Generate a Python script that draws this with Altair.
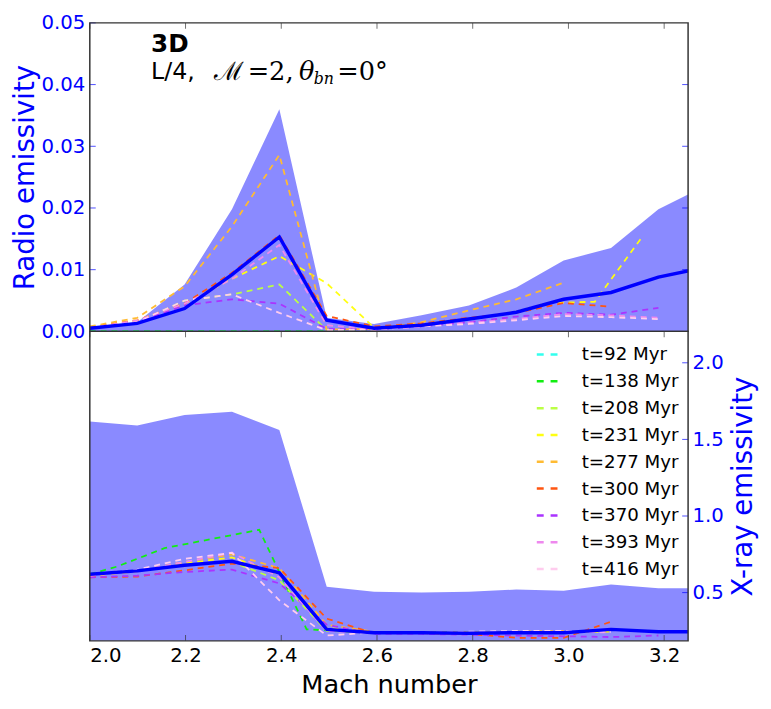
import altair as alt
import pandas as pd

# ---------------- data ----------------
MACH = [2.000, 2.099, 2.198, 2.297, 2.396, 2.495, 2.594, 2.693, 2.792, 2.891, 2.990, 3.089, 3.188, 3.287]
MACH_B = [2.000, 2.057, 2.156, 2.255, 2.354, 2.453, 2.552, 2.651, 2.750]

RADIO_MAX = [0.0005, 0.0015, 0.0076, 0.0198, 0.0360, 0.0022, 0.0012, 0.0026, 0.0042, 0.0071, 0.0115, 0.0135, 0.0198, 0.0236]
RADIO_MIN = [0.0, 0.0, 0.0, 0.0, 0.0, 0.0, 0.0, 0.0, 0.0, 0.0, 0.0, 0.0, 0.0, 0.0]
RADIO_MEAN = [0.0005, 0.0013, 0.0037, 0.0092, 0.0153, 0.0018, 0.0005, 0.0010, 0.0020, 0.0031, 0.0052, 0.0063, 0.0088, 0.0104]

XRAY_MAX = [1.616, 1.590, 1.659, 1.680, 1.562, 0.539, 0.506, 0.500, 0.505, 0.520, 0.512, 0.553, 0.528, 0.528]
XRAY_MIN = [0.10, 0.10, 0.10, 0.10, 0.10, 0.10, 0.10, 0.10, 0.10, 0.10, 0.10, 0.10, 0.10, 0.10]
XRAY_MEAN = [0.620, 0.642, 0.678, 0.704, 0.629, 0.260, 0.238, 0.238, 0.235, 0.238, 0.238, 0.260, 0.245, 0.245]

TIMES = ["t=92 Myr", "t=138 Myr", "t=208 Myr", "t=231 Myr", "t=277 Myr",
         "t=300 Myr", "t=370 Myr", "t=393 Myr", "t=416 Myr"]
COLORS = ["#33ffee", "#11ee11", "#bbff44", "#ffff11", "#ffbb33",
          "#ff5511", "#aa33ff", "#ee88ee", "#ffccee"]

YELLOW_X = [2.000, 2.099, 2.198, 2.297, 2.396, 2.495, 2.594, 2.693, 2.792, 2.891, 2.956, 3.055, 3.154]

RADIO_T92 = [0.0, 0.0, 0.0, 0.0, 0.0, 0.0]
RADIO_T138 = [0.0, 0.0, 0.0, 0.0, 0.0, 0.0, 0.0]
RADIO_T208 = [0.0005, 0.0015, 0.0050, 0.0060, 0.0076, 0.0002]
RADIO_T231 = [0.0007, 0.0018, 0.0045, 0.0085, 0.0122, 0.0078, 0.0006, 0.0012, 0.0020, 0.0032, 0.0046, 0.0048, 0.0153]
RADIO_T277 = [0.0008, 0.0022, 0.0073, 0.0170, 0.0286, 0.0003, 0.0004, 0.0015, 0.0034, 0.0052, 0.0079]
RADIO_T300 = [0.0006, 0.0018, 0.0045, 0.0095, 0.0156, 0.0025, 0.0008, 0.0013, 0.0022, 0.0030, 0.0046, 0.0040]
RADIO_T370 = [0.0005, 0.0015, 0.0042, 0.0052, 0.0045, 0.0004, 0.0003, 0.0008, 0.0015, 0.0024, 0.0030, 0.0027, 0.0038]
RADIO_T393 = [0.0005, 0.0018, 0.0045, 0.0085, 0.0140, 0.0010, 0.0003, 0.0008, 0.0014, 0.0020, 0.0028, 0.0026, 0.0022]
RADIO_T416 = [0.0005, 0.0015, 0.0050, 0.0060, 0.0030, 0.0002, 0.0003, 0.0008, 0.0012, 0.0018, 0.0025, 0.0023, 0.0020]

XRAY_T92 = [0.620, 0.642, 0.678, 0.704, 0.629, 0.260]
XRAY_T138 = [0.62, 0.67, 0.79, 0.85, 0.91, 0.26, 0.245, 0.24, 0.24]
XRAY_T208 = [0.61, 0.64, 0.68, 0.70, 0.58, 0.25, 0.24]
XRAY_T231 = [0.61, 0.64, 0.69, 0.73, 0.62, 0.27, 0.24, 0.24, 0.24, 0.24, 0.24, 0.245]
XRAY_T277 = [0.61, 0.64, 0.70, 0.75, 0.66, 0.29, 0.245, 0.24, 0.24, 0.245, 0.25]
XRAY_T300 = [0.60, 0.605, 0.645, 0.69, 0.66, 0.33, 0.235, 0.235, 0.23, 0.205, 0.205, 0.31]
XRAY_T370 = [0.60, 0.61, 0.635, 0.65, 0.56, 0.29, 0.23, 0.23, 0.225, 0.22, 0.215, 0.21, 0.22]
XRAY_T393 = [0.61, 0.64, 0.70, 0.76, 0.60, 0.25, 0.235, 0.235, 0.24, 0.24, 0.245, 0.24]
XRAY_T416 = [0.62, 0.65, 0.72, 0.76, 0.45, 0.22, 0.24, 0.24, 0.245, 0.25, 0.25, 0.245]

X_TICKS = [2.0, 2.2, 2.4, 2.6, 2.8, 3.0, 3.2]
RADIO_TICKS = [0.0, 0.01, 0.02, 0.03, 0.04, 0.05]
RADIO_RIGHT_TICKS = [0.01, 0.02, 0.03, 0.04]
XRAY_TICKS = [0.5, 1.0, 1.5, 2.0]

radio_series = [
    (TIMES[0], MACH, RADIO_T92), (TIMES[1], MACH, RADIO_T138), (TIMES[2], MACH, RADIO_T208),
    (TIMES[3], YELLOW_X, RADIO_T231), (TIMES[4], MACH, RADIO_T277), (TIMES[5], MACH, RADIO_T300),
    (TIMES[6], MACH, RADIO_T370), (TIMES[7], MACH, RADIO_T393), (TIMES[8], MACH, RADIO_T416),
]
xray_series = [
    (TIMES[0], MACH, XRAY_T92), (TIMES[1], MACH_B, XRAY_T138), (TIMES[2], MACH, XRAY_T208),
    (TIMES[3], MACH, XRAY_T231), (TIMES[4], MACH, XRAY_T277), (TIMES[5], MACH, XRAY_T300),
    (TIMES[6], MACH, XRAY_T370), (TIMES[7], MACH, XRAY_T393), (TIMES[8], MACH, XRAY_T416),
]


def long_df(series):
    rows = []
    for name, xs, ys in series:
        for x, y in zip(xs, ys):
            rows.append({"time": name, "mach": x, "val": y})
    return pd.DataFrame(rows)


radio_df = long_df(radio_series)
xray_df = long_df(xray_series)
band_radio = pd.DataFrame({"mach": MACH, "lo": RADIO_MIN, "hi": RADIO_MAX, "mean": RADIO_MEAN})
band_xray = pd.DataFrame({"mach": MACH, "lo": XRAY_MIN, "hi": XRAY_MAX, "mean": XRAY_MEAN})

# ---------------- styling ----------------
BLUE = "#0000ff"
FRAME = "#333333"
FONT = "DejaVu Sans"
W = 607
H_TOP = 313
H_BOT = 314
xscale = alt.Scale(domain=[2.0, 3.25], nice=False, zero=False)
color_scale = alt.Scale(domain=TIMES, range=COLORS)
ysc_top = alt.Scale(domain=[0, 0.05], nice=False, zero=False)
ysc_bot = alt.Scale(domain=[0.185, 2.205], nice=False, zero=False)

LEGEND = alt.Legend(orient="none", legendX=452, legendY=324, title=None,
                    symbolType="stroke", symbolDash=[7, 7], symbolStrokeWidth=2.5,
                    symbolSize=484, labelFontSize=18.5, labelFont=FONT,
                    labelColor="black", labelOffset=22, rowPadding=5.2, padding=0)


def x_ticks(ypix):
    return alt.Chart(pd.DataFrame({"t": X_TICKS})).mark_tick(
        orient="vertical", size=6, thickness=1, color=FRAME).encode(
        x=alt.X("t:Q", scale=xscale, axis=None), y=alt.value(ypix))


def y_ticks(values, scale, xpix, color):
    return alt.Chart(pd.DataFrame({"t": values})).mark_tick(
        orient="horizontal", size=6, thickness=1, color=color).encode(
        y=alt.Y("t:Q", scale=scale, axis=None), x=alt.value(xpix))


def frame(h):
    return alt.Chart(pd.DataFrame({"f": [0]})).mark_rect(
        filled=False, stroke=FRAME, strokeWidth=1.5, fillOpacity=0).encode(
        x=alt.value(0), x2=alt.value(W), y=alt.value(0), y2=alt.value(h))


# ---------------- top panel ----------------
band_top = alt.Chart(band_radio).mark_area(color=BLUE, opacity=0.46, clip=True).encode(
    x=alt.X("mach:Q", scale=xscale, axis=None),
    y=alt.Y("hi:Q", scale=ysc_top,
            axis=alt.Axis(orient="left", values=RADIO_TICKS, format=".2f", ticks=False,
                          domain=False, grid=False, labelColor=BLUE, labelFontSize=20,
                          labelFont=FONT, labelPadding=5, title="Radio emissivity",
                          titleColor=BLUE, titleFontSize=28, titleFont=FONT,
                          titleFontWeight="normal", titlePadding=2)),
    y2="lo:Q",
)

dashed_top = alt.Chart(radio_df).mark_line(strokeDash=[6, 5], strokeWidth=1.8, clip=True).encode(
    x=alt.X("mach:Q", scale=xscale, axis=None),
    y=alt.Y("val:Q", scale=ysc_top, axis=None),
    color=alt.Color("time:N", scale=color_scale, legend=LEGEND),
)

mean_top = alt.Chart(band_radio).mark_line(color=BLUE, strokeWidth=3.5, clip=True).encode(
    x=alt.X("mach:Q", scale=xscale, axis=None),
    y=alt.Y("mean:Q", scale=ysc_top, axis=None),
)

ann = pd.DataFrame({"mach": [2.128]})


def ann_text(text, yv, dx=0, dy=0, font=FONT, size=25, weight="normal", style="normal"):
    return alt.Chart(ann).mark_text(text=text, align="left", baseline="middle", dx=dx, dy=dy,
                                    font=font, fontSize=size, fontWeight=weight,
                                    fontStyle=style, color="black").encode(
        x=alt.X("mach:Q", scale=xscale, axis=None),
        y=alt.Y("val:Q", scale=ysc_top, axis=None),
    ).transform_calculate(val=str(yv))


t_3d = ann_text("3D", 0.0465, size=25, weight="bold")
t_l4 = ann_text("L/4,", 0.0420, size=24)
t_m = ann_text("ℳ", 0.0420, dx=64, font="DejaVu Serif", size=26)
t_eq2 = ann_text("=2,", 0.0420, dx=98, font="DejaVu Serif", size=26)
t_th = ann_text("θ", 0.0420, dx=150, font="DejaVu Serif", size=26, style="italic")
t_bn = ann_text("bn", 0.0420, dx=165, dy=7, font="DejaVu Serif", size=16, style="italic")
t_eq0 = ann_text("=0°", 0.0420, dx=189, font="DejaVu Serif", size=26)

top = alt.layer(
    band_top, dashed_top, mean_top,
    x_ticks(3), y_ticks(RADIO_TICKS, ysc_top, 3, BLUE), y_ticks(RADIO_RIGHT_TICKS, ysc_top, W - 3, BLUE),
    frame(H_TOP),
    t_3d, t_l4, t_m, t_eq2, t_th, t_bn, t_eq0,
).resolve_axis(x="independent", y="independent").properties(width=W, height=H_TOP)

# ---------------- bottom panel ----------------
band_bot = alt.Chart(band_xray).mark_area(color=BLUE, opacity=0.46, clip=True).encode(
    x=alt.X("mach:Q", scale=xscale,
            axis=alt.Axis(orient="bottom", values=X_TICKS, format=".1f", ticks=False,
                          domain=False, grid=False, labelColor="black", labelFontSize=20,
                          labelFont=FONT, labelPadding=5, title="Mach number",
                          titleFontSize=26, titleFont=FONT, titleFontWeight="normal",
                          titleColor="black", titlePadding=6)),
    y=alt.Y("hi:Q", scale=ysc_bot,
            axis=alt.Axis(orient="right", values=XRAY_TICKS, format=".1f", ticks=False,
                          domain=False, grid=False, labelColor=BLUE, labelFontSize=20,
                          labelFont=FONT, labelPadding=4, title="X-ray emissivity",
                          titleColor=BLUE, titleFontSize=28, titleFont=FONT,
                          titleFontWeight="normal", titleAngle=270, titleBaseline="top",
                          titlePadding=7)),
    y2="lo:Q",
)

dashed_bot = alt.Chart(xray_df).mark_line(strokeDash=[6, 5], strokeWidth=1.8, clip=True).encode(
    x=alt.X("mach:Q", scale=xscale, axis=None),
    y=alt.Y("val:Q", scale=ysc_bot, axis=None),
    color=alt.Color("time:N", scale=color_scale, legend=LEGEND),
)

mean_bot = alt.Chart(band_xray).mark_line(color=BLUE, strokeWidth=3.5, clip=True).encode(
    x=alt.X("mach:Q", scale=xscale, axis=None),
    y=alt.Y("mean:Q", scale=ysc_bot, axis=None),
)

bottom = alt.layer(
    band_bot, dashed_bot, mean_bot,
    x_ticks(3), x_ticks(H_BOT - 3), y_ticks(XRAY_TICKS, ysc_bot, W - 3, BLUE),
    frame(H_BOT),
).resolve_axis(x="independent", y="independent").properties(width=W, height=H_BOT)

chart = alt.vconcat(top, bottom, spacing=0, bounds="flush").properties(
    padding={"left": 3, "top": 0, "right": 5, "bottom": 5}
).configure_view(stroke=None)

chart.save("out.html", embed_options={"renderer": "svg", "actions": False})
